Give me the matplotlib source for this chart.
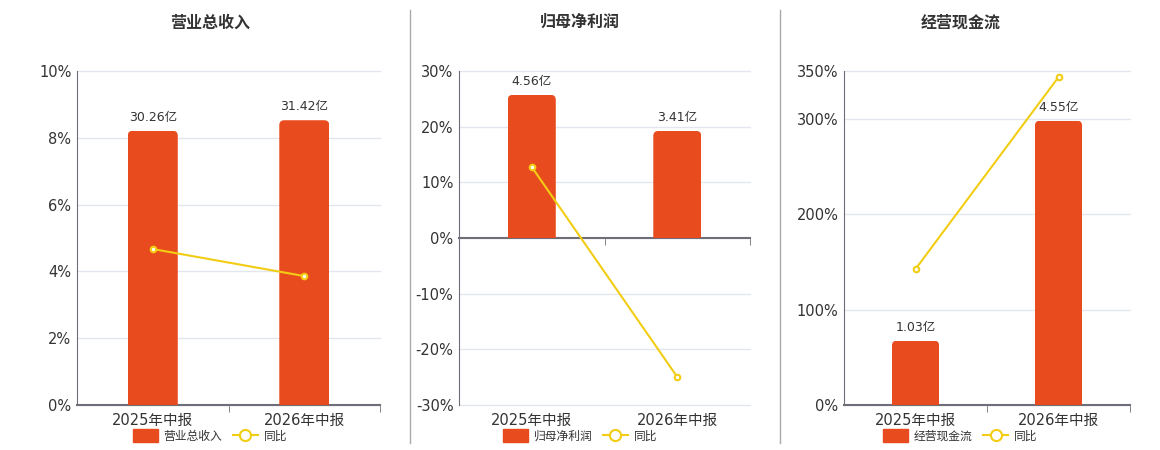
import matplotlib
matplotlib.use("Agg")
import matplotlib.pyplot as plt
from matplotlib.lines import Line2D
from matplotlib.patches import Patch, FancyBboxPatch
from matplotlib.ticker import FuncFormatter

plt.rcParams['font.family'] = ['DejaVu Sans', 'Noto Sans CJK SC']

# data
periods = ["2025年中报", "2026年中报"]
titles = ["营业总收入", "归母净利润", "经营现金流"]
bar_values = [[30.26, 31.42], [4.56, 3.41], [1.03, 4.55]]   # 亿
yoy_values = [[4.67, 3.86], [12.75, -24.97], [142.5, 343.7]]  # %
pct_ticks = [[0, 2, 4, 6, 8, 10],
             [-30, -20, -10, 0, 10, 20, 30],
             [0, 100, 200, 300, 350]]
bar_limits = [(0, 36.85), (-5.32, 5.32), (0, 5.345)]

BAR_COLOR = "#E84C1E"
LINE_COLOR = "#F2CD14"
GRID_COLOR = "#E3E6EE"
AXIS_COLOR = "#6E6E78"
TEXT_COLOR = "#333333"
CORNER_PX = 5

fig = plt.figure(figsize=(11.6, 4.5), dpi=100)

# [left, bottom, width, height] in figure fraction
boxes = [[0.0664, 0.1, 0.2612, 0.7422],
         [0.3957, 0.1, 0.2509, 0.7422],
         [0.7276, 0.1, 0.2466, 0.7422]]
title_x = [0.181, 0.5, 0.828]

for i in range(3):
    ax = fig.add_axes(boxes[i])
    ticks = pct_ticks[i]
    ax.set_ylim(ticks[0], ticks[-1])
    ax.set_xlim(-0.5, 1.5)
    ax.set_yticks(ticks)
    ax.yaxis.set_major_formatter(FuncFormatter(lambda v, p: f"{v:.0f}%"))
    ax.grid(axis="y", color=GRID_COLOR, linewidth=1)
    for gl in ax.get_ygridlines():
        gl.set_clip_on(False)
    ax.set_axisbelow(True)
    for s in ["top", "right"]:
        ax.spines[s].set_visible(False)
    ax.spines["left"].set_color(AXIS_COLOR)
    ax.spines["bottom"].set_color(AXIS_COLOR)
    ax.spines["bottom"].set_linewidth(1.5)
    ax.spines["bottom"].set_position(("data", 0))
    ax.tick_params(axis="y", length=0, labelsize=10.5, labelcolor=TEXT_COLOR, pad=4)
    ax.set_xticks([0.5, 1.5], minor=True)
    ax.set_xticks([0, 1])
    ax.set_xticklabels([])
    ax.tick_params(axis="x", which="both", length=0)
    ax.tick_params(axis="x", which="minor", length=5, color=AXIS_COLOR, direction="out")
    for k, lab in enumerate(periods):
        ax.text(k, -0.045, lab, transform=ax.get_xaxis_transform(), ha="center", va="center",
                fontsize=10.5, color=TEXT_COLOR)

    bx = ax.twinx()
    bx.set_ylim(*bar_limits[i])
    bx.set_xlim(-0.5, 1.5)
    bx.axis("off")
    bars = bx.bar(range(len(periods)), bar_values[i], width=0.33, color="none", zorder=2)

    # corner radius in data units of the bar axis
    p0 = bx.transData.inverted().transform((0, 0))
    p1 = bx.transData.inverted().transform((CORNER_PX, CORNER_PX))
    rx, ry = abs(p1[0] - p0[0]), abs(p1[1] - p0[1])
    for rect, v in zip(bars, bar_values[i]):
        x, w, h = rect.get_x(), rect.get_width(), rect.get_height()
        rounded = FancyBboxPatch((x, -2 * ry), w, h + 2 * ry,
                                 boxstyle=f"round,pad=0,rounding_size={rx}",
                                 mutation_aspect=ry / rx, facecolor=BAR_COLOR,
                                 edgecolor="none", zorder=2)
        bx.add_patch(rounded)
        rounded.set_clip_path(rect)
        bx.annotate(f"{v:.2f}亿", (x + w / 2, h),
                    xytext=(0, 5), textcoords="offset points", ha="center", va="bottom",
                    fontsize=9, color=TEXT_COLOR)

    lx = ax.twinx()
    lx.set_ylim(ticks[0], ticks[-1])
    lx.set_xlim(-0.5, 1.5)
    lx.axis("off")
    lx.plot(range(len(periods)), yoy_values[i], color=LINE_COLOR, linewidth=1.5,
            marker="o", markersize=4, markerfacecolor="white", markeredgecolor=LINE_COLOR,
            markeredgewidth=1.5, zorder=3)

    fig.text(title_x[i], 0.95, titles[i], ha="center", va="center", fontsize=11.5,
             fontweight="bold", color=TEXT_COLOR)

    handles = [Patch(facecolor=BAR_COLOR, edgecolor=BAR_COLOR),
               Line2D([], [], color=LINE_COLOR, linewidth=1.5, marker="o", markersize=8,
                      markerfacecolor="white", markeredgecolor=LINE_COLOR, markeredgewidth=1.5)]
    fig.legend(handles, [titles[i], "同比"], loc="center", bbox_to_anchor=(title_x[i], 14 / 450),
               ncol=2, frameon=False, fontsize=8.5, handlelength=2.1, handleheight=1.2,
               columnspacing=0.9, handletextpad=0.5, labelcolor=TEXT_COLOR,
               borderpad=0, borderaxespad=0)

for x in [410 / 1160, 780 / 1160]:
    fig.add_artist(Line2D([x, x], [7 / 450, 440 / 450], transform=fig.transFigure,
                          color="#AAAAAA", linewidth=1))

fig.savefig("out.png", dpi=100)
